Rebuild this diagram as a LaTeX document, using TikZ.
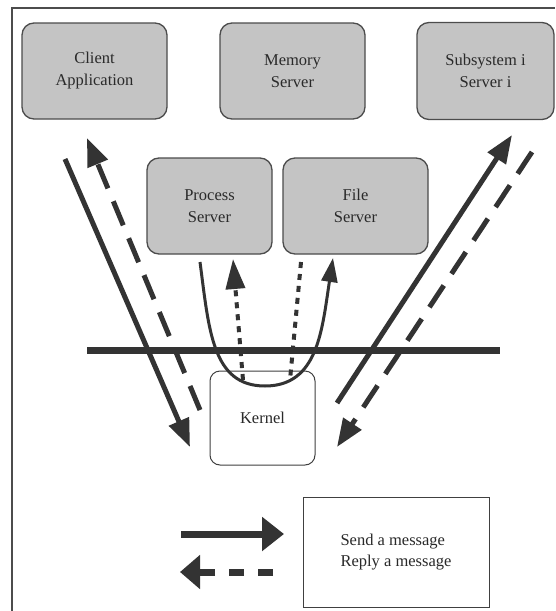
\documentclass[tikz,border=0pt]{standalone}
\usepackage{fontspec}
\setmainfont{Liberation Serif}
\usetikzlibrary{arrows.meta}
\definecolor{ink}{HTML}{333333}
\definecolor{txt}{HTML}{2A2A2A}
\definecolor{boxgray}{HTML}{C4C4C4}
\begin{document}
\begin{tikzpicture}[x=1pt,y=-1pt,
  server/.style={draw=black!70, line width=1.3pt, fill=boxgray, rounded corners=12pt,
    align=center, inner sep=0pt, text=txt, font=\fontsize{16.5}{22}\selectfont},
  plainbox/.style={draw=black!75, line width=1pt, fill=white, inner sep=0pt, text=txt,
    font=\fontsize{16.5}{21}\selectfont},
  bigsolid/.style={draw=ink, line width=5pt, -{Triangle[length=28pt,width=21pt]}},
  bigdashed/.style={draw=ink, line width=5pt, dash pattern=on 26pt off 14pt, -{Triangle[length=28pt,width=21pt]}},
  dotline/.style={draw=ink, line width=4pt, dash pattern=on 6pt off 6pt},
]
\useasboundingbox (0,0) rectangle (555,611);
\fill[white] (0,0) rectangle (555,611);
% frame
\draw[line width=1.3pt, black!70] (12,611) -- (12,8) -- (555,8);

% servers
\node[server, minimum width=145pt, minimum height=96pt] (client) at (94.5,71) {Client\\Application};
\node[server, minimum width=145pt, minimum height=96pt] (memory) at (292.5,71) {Memory\\Server};
\node[server, minimum width=137pt, minimum height=97pt] (subsys) at (485.5,71) {Subsystem i\\Server i};
\node[server, minimum width=125pt, minimum height=96pt] (proc) at (209.5,206) {Process\\Server};
\node[server, minimum width=145pt, minimum height=96pt] (file) at (355.5,206) {File\\Server};
\node[plainbox, rounded corners=10pt, minimum width=105pt, minimum height=94pt] (kernel) at (262.5,418) {Kernel};
\node[plainbox, minimum width=186pt, minimum height=110pt, align=left] (legend) at (396,552) {Send a message\\Reply a message};

% named end points
\coordinate (l1s) at (65,159);   \coordinate (l1e) at (190,447);
\coordinate (l2s) at (200,410);  \coordinate (l2e) at (87,138);
\coordinate (r1s) at (337,403);  \coordinate (r1e) at (512,135);
\coordinate (r2s) at (532,152);  \coordinate (r2e) at (337,447);
\coordinate (us) at (200,262);   \coordinate (ue) at (333,258);
\coordinate (d1s) at (243,380);  \coordinate (d1e) at (233,259);
\coordinate (d2s) at (301,262);  \coordinate (d2e) at (290,380);
\coordinate (hl) at (87,350);    \coordinate (hr) at (500,350);
\coordinate (ss) at (181,534);   \coordinate (se) at (284,534);
\coordinate (rs) at (273,572);   \coordinate (re) at (180,572);

% horizontal barrier
\draw[ink, line width=7pt] (hl) -- (hr);

% big diagonal arrows
\draw[bigsolid] (l1s) -- (l1e);
\draw[bigdashed] (l2s) -- (l2e);
\draw[bigsolid] (r1s) -- (r1e);
\draw[bigdashed] (r2s) -- (r2e);

% middle U-shaped send
\draw[ink, line width=3pt, -{Triangle[length=24pt,width=16pt]}]
  (us) .. controls (209,330) and (212,386) .. (265,386)
       .. controls (318,386) and (322,330) .. (ue);
% dotted replies
\draw[dotline, -{Triangle[length=30pt,width=19pt]}] (d1s) -- (d1e);
\draw[dotline] (d2s) -- (d2e);

% legend arrows
\draw[ink, line width=7pt, -{Triangle[length=22pt,width=33pt]}] (ss) -- (se);
\draw[ink, line width=7pt, dash pattern=on 15pt off 14pt, -{Triangle[length=20pt,width=33pt]}] (rs) -- (re);
\end{tikzpicture}
\end{document}
